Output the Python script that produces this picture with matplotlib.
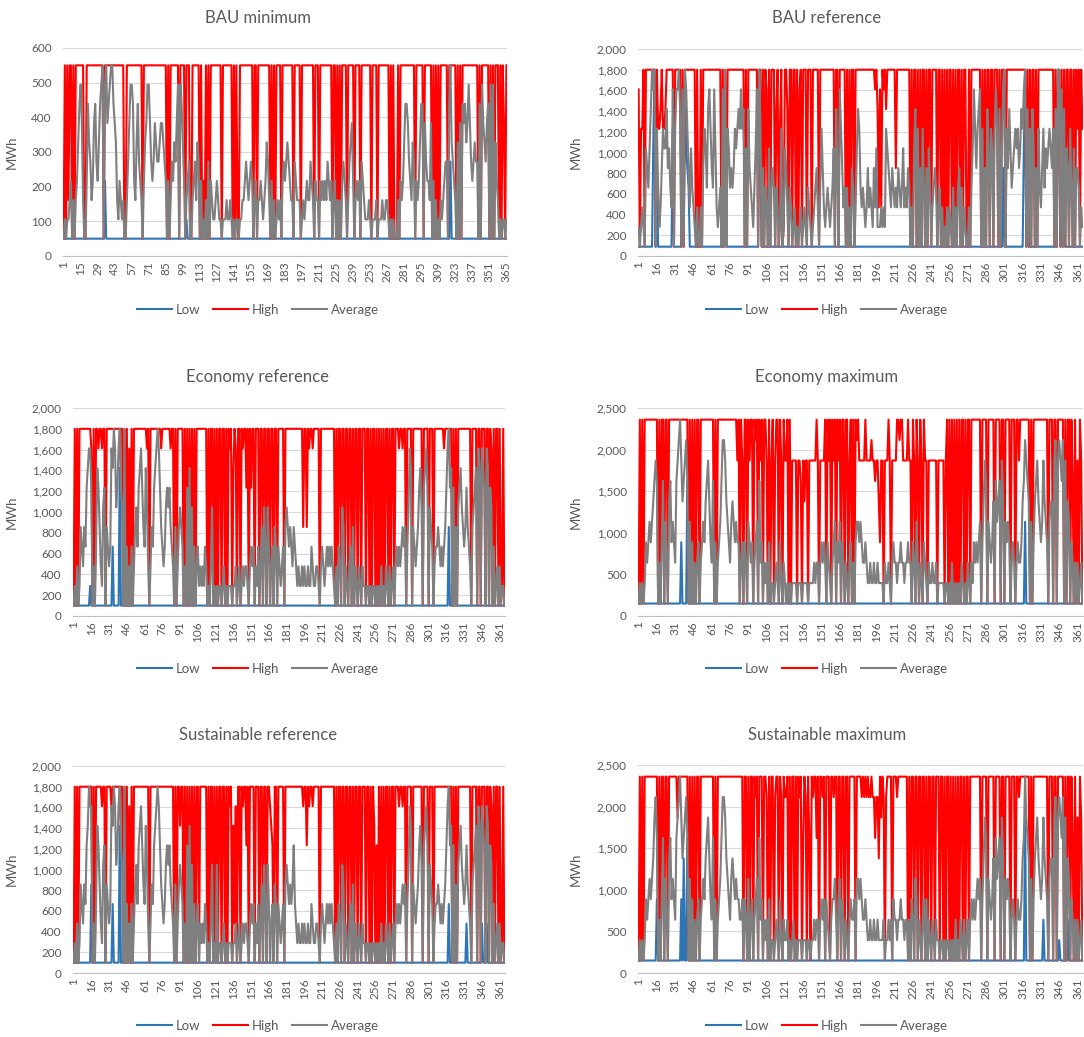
import numpy as np
import matplotlib.pyplot as plt

plt.rcParams["font.family"] = ["Lato", "DejaVu Sans"]

TEXT = "#595959"
GRID = "#D9D9D9"
AXIS = "#BFBFBF"
COLORS = {"Low": "#2E75B6", "High": "#FF0000", "Average": "#7F7F7F"}

# ── data ──────────────────────────────────────────────────────────────
DAYS = np.arange(1, 366)

TITLES = ["BAU minimum", "BAU reference",
          "Economy reference", "Economy maximum",
          "Sustainable reference", "Sustainable maximum"]

# level 0 = floor value, level 9 = cap value (MWh)
FLOOR = [50, 90, 100, 150, 100, 150]
CAP = [550, 1800, 1800, 2360, 1800, 2360]
Y_MAX = [600, 2000, 2000, 2500, 2000, 2500]
Y_STEP = [100, 200, 200, 500, 200, 500]
LABEL_EVERY = [14, 15, 15, 15, 15, 15]

# one digit per day (0-9)
BAU_MIN_LOW = """
0000000000 0000000000 0000000000 0000300000 0000000000 0000000000 0000000000 000
0000000000 0000000000 0000000010 0000000000 0000000000 0000000000 0000000000 000
0000000000 0000000000 0000000000 0000000000 0000000000 0000000000 0000000000 000
0000000000 0000000000 0000000000 0000000000 0000000000 0000000000 0000000000 000
0000000000 0000000000 0000004000 0000000000 0000000000 0000000000 0000000000 000
"""
BAU_MIN_HIGH = """
0909299090 9999999009 9999999999 9990999999 9999999999 0099999999 9999909999 999
9999999999 9909099999 9909999099 9009999990 9030909099 9999999099 9999990909 109
9999999999 0990999999 9999090909 9990999999 9990999990 9999999999 0999099999 999
9909909090 9999099999 0999909999 9999099990 9999999990 9090009099 9999999999 099
9999099999 9090909099 9999099999 9090909999 9999999990 9099999909 0909990909 609
"""
BAU_MIN_AVG = """
0101123020 2357862003 7542367435 7890896789 9765213212 0024688732 5743203568 864
3465445665 4303024354 6808753023 4002342540 3010204032 1123211011 1211210101 101
1223432343 0230223212 3542030201 2120343454 3220432220 1212322432 0322032323 243
2302302020 3432024563 0232304321 1121011120 1112112210 1010002032 3577643254 032
3577064332 6030201021 2344079543 2050607675 6864345440 7086546708 0805320101 101
"""

BAU_REF_LOW = """
0000000000 0059040000 0000000060 0000007085 4300000000 0000000000 0000000000 0600000000 0000000000 0000000009
5000000000 0000000000 0000000000 0000000000 0000000000 0000000000 0000000000 0000000000 0000000000 0000000000
0000000000 0000000000 0000000000 0000000000 0000000000 0000000000 0000000000 0000000000 0000000000 0000000004
0000000000 0000005904 0000000000 0000000000 0000970605 0000000000 00000
"""
BAU_REF_HIGH = """
8066909999 9999096679 6679999990 9999909099 9999999090 0909999999 9999999909 0909999999 9999999090 9999999909
9090980909 9907906901 9970990990 9089099909 9909999909 9999999999 9099099999 0909099099 9999999999 9999897282
9897999999 9499999999 9990909909 0909909099 0999909909 0909099090 9099090990 0909999999 9090909909 9099909099
9099999999 9999999909 0909909099 9999999999 9090990909 0990990909 69096
"""
BAU_REF_AVG = """
1012105435 7989063124 6557453280 6889708098 6425321020 0204653786 4385212308 0906534346 5676867050 7432135809
6040320503 4303201601 5420320120 1012012103 2101234203 6421232123 5074086423 0302043025 7632321242 3214251112
1216543243 2324323523 2430205706 0406304053 0234302302 0102021030 2034030210 0203586467 8060407506 5068607058
9064753456 5645768907 0607504063 2463545654 6070990807 0540630504 43021
"""

ECON_REF_LOW = """
0000000000 0000100000 0000000000 0003000007 0000000000 0000000000 0000000000 0000000000 0000000000 0000000000
0000000000 0000000000 0000000000 0000000000 0000000000 0000000000 0000000000 0000000000 0000000000 0000000000
0000000000 0000000000 0000000000 0000000000 0000000000 0000000000 0000000000 0000000000 0000000000 0000000000
0000000000 0000000400 0000000000 0000000000 0000000000 0000000000 00000
"""
ECON_REF_HIGH = """
0909099999 9999980909 9899899099 9999999999 9909090809 0999999999 9989099999 9999899999 9989909099 9990909090
9090999999 9990909909 0909909909 0989079809 9098996909 6990999099 0990990990 9909999909 9999999999 9999499498
9989999909 9999999999 9090990990 9909909099 0990999099 0909909090 9090990909 9099989989 9099990999 9999909999
0999099999 9998999999 0909099999 9999990999 9099099909 9098090990 90190
"""
ECON_REF_AVG = """
0102014324 3678860203 7642156043 2387985689 6509030203 0245367864 3752024367 8986432356 5643204024 5430206070
5030231212 1320102501 0101101201 0111011201 2012122102 3230213024 0530530230 4303212304 5434324321 2112121121
1321122102 3212323232 1020320540 2102304021 0210211011 0101101010 2010210201 2023232343 4035870432 3467506786
0543023343 2323468967 0604056754 3464320456 7087087608 7065030120 20110
"""

ECON_MAX_LOW = """
0000000000 0000000000 0000000000 0000030000 6000000000 0000000000 0000000000 0000000000 0000000000 0000000000
0000000000 0000000000 0000000000 0000000000 0000000000 0000000000 0000000000 0000000000 0000000000 0000000000
0000000000 0000000000 0000000000 0000000000 0000000000 0000000000 0000000000 0000000000 0000000000 0000000000
0000000000 0000000400 0000000000 0000000000 0000000000 0000000000 00000
"""
ECON_MAX_HIGH = """
0909099999 9999990909 9099099999 9999999999 9090909099 0999999999 9909099999 9999999999 9790970990 9799098909
7909970907 9079909709 7790907777 0776075770 7777779707 7779097909 7909790990 9907909098 9777779777 7877677537
7077797077 7799899777 7977097097 0970977077 7777707777 7079090909 0909099090 9909999999 9099990999 9909999099
0999909990 9979999999 9090999999 9999990999 0990999990 9099096090 70970
"""
ECON_MAX_AVG = """
0101013234 3456760203 6042056343 2678975678 6040302023 0234356753 2603023468 8754324543 4330230320 4323023406
2302120301 1012103102 1010101111 0111011110 1111212202 3232032102 3403240320 2102302034 4343223211 2112112111
1021121023 2212232212 2322032042 0210321021 1211201111 1011010201 0101021010 2102132323 4035760432 3506456075
0434302320 2322356876 5040356754 3475430455 0780787680 7054032020 20120
"""

SUST_REF_LOW = """
0000000000 0000040000 0000000000 0003000007 0000000000 0000000000 0000000000 0000000000 0000000000 0000000000
0000000000 0000000000 0000000000 0000000000 0000000000 0000000000 0000000000 0000000000 0000000000 0000000000
0000000000 0000000000 0000000000 0000000000 0000000000 0000000000 0000000000 0000000000 0000000000 0000000000
0000000000 0000000300 0000000000 0020000000 0000020002 0000000000 00000
"""
SUST_REF_HIGH = """
0909099999 9999990909 9999899099 9989999999 9909090809 0999999999 9999099999 9999999999 9999909099 7990909090
9090990999 9990909909 0909909909 0989072809 9098996909 9990999099 0990998760 9909999909 9999999999 9999899698
9989999909 9999999999 9090990990 9909909099 0990999099 0909706090 9090990909 9099989989 9099990999 9999909999
0999099999 9999999999 0909099999 9999990999 9099099909 9098090990 90190
"""
SUST_REF_AVG = """
0102014324 3679880203 7642156043 2387985689 6509030203 0245367864 3752024367 8986432356 5643204024 5430206070
5030230212 1320102501 0501101201 0111011201 2012122102 3230213024 0530530230 4303212304 5434346321 2112121121
1321122102 3212323232 1020320540 2102304021 0210211011 0101101010 2010210201 2023232343 4035870432 3467506786
0543023343 2323468967 0604056754 3464320456 7087087608 7065030120 20110
"""

SUST_MAX_LOW = """
0000000000 0000030000 0000000000 0000030500 6000000000 0000000000 0000000000 0000000000 0000000000 0000000000
0000000000 0000000000 0000000000 0000000000 0000000000 0000000000 0000000000 0000000000 0000000000 0000000000
0000000000 0000000000 0000000000 0000000000 0000000000 0000000000 0000000000 0000000000 0000000000 0000000000
0000000000 0000000700 0000000000 0020000000 0000010000 0020000000 00000
"""
SUST_MAX_HIGH = """
0909099999 9999990909 9099099999 9979999999 9090909099 0999999999 9909099999 9999999999 9999990990 9099098909
9909980909 9089909809 8890909909 0989069809 6098996909 9890999099 8990990990 9909999909 9998989898 8988688597
9808999909 9989999999 9090990990 9909909099 0990999099 0909909090 9090990909 9099999999 9099990999 9909999099
0999909990 9989999999 9090999999 9999990999 0990999990 9099096090 70970
"""
SUST_MAX_AVG = """
0101013234 3457860203 6042056343 2678975678 6040302023 0234356753 2603023468 8754324543 4332230320 4023023406
2302120301 1012103102 1120101201 0111011101 1011212202 3230321023 3420340320 2102322304 4343223211 2112112111
1201121203 2212232212 2020320430 2102303021 0210211011 0101101010 2010210201 2023232343 4035760432 3506456075
0434302320 2322356976 5040356754 3475430455 0780787680 7054032020 20120
"""

LOW = [BAU_MIN_LOW, BAU_REF_LOW, ECON_REF_LOW, ECON_MAX_LOW, SUST_REF_LOW, SUST_MAX_LOW]
HIGH = [BAU_MIN_HIGH, BAU_REF_HIGH, ECON_REF_HIGH, ECON_MAX_HIGH, SUST_REF_HIGH, SUST_MAX_HIGH]
AVERAGE = [BAU_MIN_AVG, BAU_REF_AVG, ECON_REF_AVG, ECON_MAX_AVG, SUST_REF_AVG, SUST_MAX_AVG]

# ── layout (pixels in the 1084 x 1037 figure) ─────────────────────────
W, H = 1084, 1037
BOXES = [(63, 48, 507, 256), (638, 49, 1083, 256),
         (73, 408, 505, 616), (638, 408, 1083, 616),
         (73, 766, 505, 973), (638, 765, 1083, 973)]
CENTER_X = [258, 827, 258, 827, 258, 827]
TITLE_Y = [18, 18, 377, 377, 735, 735]
LEGEND_Y = [310, 310, 669, 669, 1026, 1026]
YLABEL_X = [18, 582, 18, 582, 18, 582]


def decode(levels: str, floor: float, cap: float) -> np.ndarray:
    """Turn a string of day levels (0-9) into MWh values."""
    d = np.array([int(c) for c in levels if c.isdigit()], dtype=float)
    assert d.size == 365, d.size
    return floor + d * (cap - floor) / 9.0


def draw_panel(fig, i: int) -> None:
    l, t, r, b = BOXES[i]
    ax = fig.add_axes([l / W, 1 - b / H, (r - l) / W, (b - t) / H])

    for name, src in (("Low", LOW), ("High", HIGH), ("Average", AVERAGE)):
        ax.plot(DAYS, decode(src[i], FLOOR[i], CAP[i]),
                color=COLORS[name], lw=1.5, label=name)

    ax.set_xlim(0.5, 365.5)
    ax.set_ylim(0, Y_MAX[i])
    ax.set_yticks(np.arange(0, Y_MAX[i] + 1, Y_STEP[i]))
    ax.yaxis.set_major_formatter(lambda v, p: f"{v:,.0f}")

    ticks = np.arange(1, 366, LABEL_EVERY[i])
    ax.set_xticks(ticks)
    ax.set_xticklabels([str(x) for x in ticks], rotation=90)
    ax.tick_params(axis="both", length=0, labelsize=8.5, colors=TEXT)
    ax.tick_params(axis="y", pad=8)
    ax.tick_params(axis="x", pad=4)

    ax.grid(axis="y", color=GRID, lw=0.8)
    ax.set_axisbelow(True)
    for side in ("top", "right", "left"):
        ax.spines[side].set_visible(False)
    ax.spines["bottom"].set_color(AXIS)

    ax.set_ylabel("MWh", color=TEXT, fontsize=9.5)
    ax.yaxis.set_label_coords((YLABEL_X[i] - l) / (r - l), 0.5)

    fig.text(CENTER_X[i] / W, 1 - TITLE_Y[i] / H, TITLES[i],
             ha="center", va="center", fontsize=12, color=TEXT)

    handles, labels = ax.get_legend_handles_labels()
    fig.legend(handles, labels, loc="center",
               bbox_to_anchor=(CENTER_X[i] / W, 1 - LEGEND_Y[i] / H),
               ncol=3, frameon=False, fontsize=9.5, labelcolor=TEXT,
               handlelength=2.6, handletextpad=0.3, columnspacing=1.0)


def main() -> None:
    fig = plt.figure(figsize=(W / 100, H / 100), dpi=100)
    for i in range(len(TITLES)):
        draw_panel(fig, i)
    fig.savefig("out.png", dpi=100)


if __name__ == "__main__":
    main()
